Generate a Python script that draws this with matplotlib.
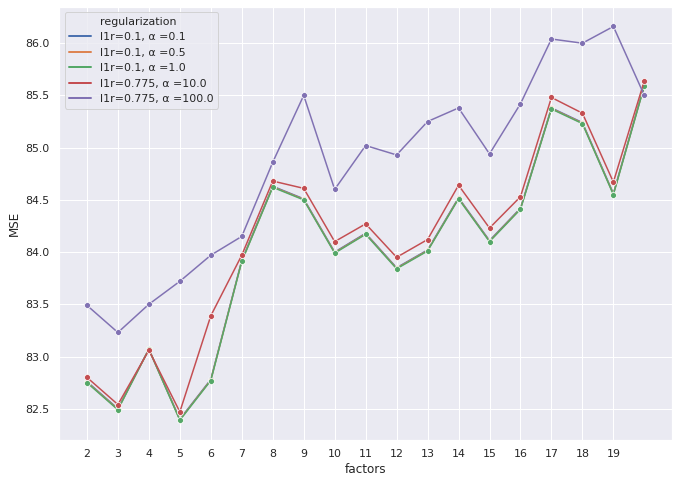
import numpy as np
import pandas as pd
import matplotlib
matplotlib.use("Agg")
import matplotlib.pyplot as plt
from matplotlib.lines import Line2D
import seaborn as sns

factors = list(range(2, 21))

labels = [
    "l1r=0.1, α =0.1",
    "l1r=0.1, α =0.5",
    "l1r=0.1, α =1.0",
    "l1r=0.775, α =10.0",
    "l1r=0.775, α =100.0",
]

mse_a01 = [82.76, 82.50, 83.07, 82.40, 82.78, 83.92, 84.63, 84.51, 84.00, 84.18,
           83.85, 84.02, 84.52, 84.11, 84.42, 85.38, 85.24, 84.56, 85.60]
mse_a05 = [82.755, 82.495, 83.07, 82.395, 82.775, 83.915, 84.625, 84.505, 83.995, 84.175,
           83.845, 84.015, 84.515, 84.105, 84.415, 85.375, 85.235, 84.555, 85.595]
mse_a1 = [82.75, 82.49, 83.07, 82.39, 82.77, 83.91, 84.62, 84.50, 83.99, 84.17,
          83.84, 84.01, 84.51, 84.10, 84.41, 85.37, 85.23, 84.55, 85.59]
mse_a10 = [82.80, 82.54, 83.06, 82.47, 83.39, 83.97, 84.68, 84.61, 84.10, 84.27,
           83.95, 84.12, 84.64, 84.23, 84.53, 85.48, 85.33, 84.67, 85.64]
mse_a100 = [83.49, 83.23, 83.50, 83.72, 83.97, 84.15, 84.86, 85.50, 84.60, 85.02,
            84.93, 85.25, 85.38, 84.94, 85.42, 86.04, 86.00, 86.16, 85.50]

series = [mse_a01, mse_a05, mse_a1, mse_a10, mse_a100]

rows = []
for lab, vals in zip(labels, series):
    for f, v in zip(factors, vals):
        rows.append({"factors": f, "MSE": v, "regularization": lab})
df = pd.DataFrame(rows)

sns.set_theme(style="darkgrid")

fig, ax = plt.subplots(figsize=(679 / 72, 485 / 72), dpi=72)
fig.subplots_adjust(left=0.087, right=0.99, top=0.986, bottom=0.093)

sns.lineplot(data=df, x="factors", y="MSE", hue="regularization",
             hue_order=labels, marker="o", ax=ax, legend=False)

ax.set_xticks(range(2, 20))

# old-style seaborn legend: title as a blank entry, plain line handles
palette = sns.color_palette()
handles = [Line2D([], [], color="none")]
handles += [Line2D([], [], color=palette[i], lw=2) for i in range(len(labels))]
ax.legend(handles, ["regularization"] + labels, loc="upper left", fontsize=11)

fig.savefig("out.png", dpi=72)
